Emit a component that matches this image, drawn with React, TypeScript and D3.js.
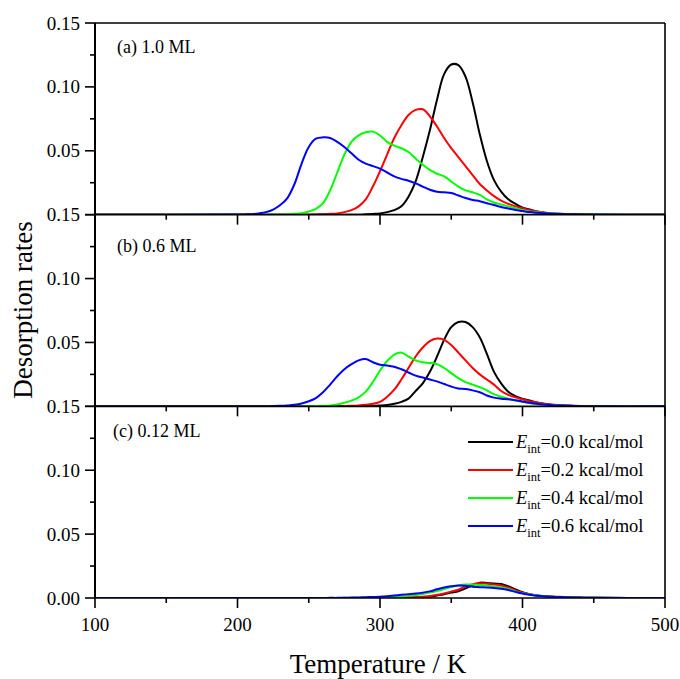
import React from 'react';
import * as d3 from 'd3';

// temperature grid (K)
const temps = [
  100,
  200, 205, 210, 215, 220, 225, 230, 235, 240, 245,
  250, 255, 260, 265, 270, 275, 280, 285, 290, 295,
  300, 305, 310, 315, 320, 325, 330, 335, 340, 345,
  350, 355, 360, 365, 370, 375, 380, 385, 390, 395,
  400, 405, 410, 415, 420, 425, 430, 435, 440, 445,
  450, 500,
];

// (a) 1.0 ML
const aBlack = [
  0,
  0, 0, 0, 0, 0, 0, 0, 0, 0, 0,
  0, 0, 0, 0, 0, 0, 0, 0, 0.0003, 0.0006,
  0.001, 0.002, 0.0035, 0.0065, 0.014, 0.026, 0.045, 0.066, 0.09, 0.11,
  0.1175, 0.117, 0.108, 0.088, 0.063, 0.042, 0.027, 0.018, 0.012, 0.0085,
  0.0055, 0.004, 0.0025, 0.0015, 0.001, 0.0007, 0.0005, 0.0003, 0.0002, 0.0001,
  0, 0,
];
const aRed = [
  0,
  0, 0, 0, 0, 0, 0, 0, 0, 0, 0,
  0, 0.0002, 0.0004, 0.0007, 0.001, 0.002, 0.0035, 0.0065, 0.012, 0.022,
  0.034, 0.047, 0.06, 0.07, 0.078, 0.082, 0.0825, 0.077, 0.069, 0.06,
  0.052, 0.045, 0.038, 0.031, 0.024, 0.019, 0.0145, 0.011, 0.0085, 0.0065,
  0.005, 0.0035, 0.0025, 0.0018, 0.0012, 0.0008, 0.0005, 0.0003, 0.0002, 0.0001,
  0, 0,
];
const aGreen = [
  0,
  0, 0, 0, 0, 0, 0.0001, 0.0002, 0.0004, 0.0007, 0.0012,
  0.0025, 0.0045, 0.009, 0.019, 0.033, 0.047, 0.057, 0.062, 0.0645, 0.065,
  0.062, 0.057, 0.054, 0.052, 0.049, 0.044, 0.039, 0.035, 0.032, 0.03,
  0.026, 0.022, 0.019, 0.0175, 0.0155, 0.012, 0.0095, 0.008, 0.0065, 0.005,
  0.0035, 0.0025, 0.0018, 0.0013, 0.001, 0.0008, 0.0006, 0.0004, 0.0003, 0.0002,
  0.0001, 0,
];
const aBlue = [
  0,
  0.0001, 0.0002, 0.0004, 0.001, 0.002, 0.004, 0.0075, 0.013, 0.024, 0.04,
  0.053, 0.0595, 0.0605, 0.06, 0.057, 0.053, 0.048, 0.043, 0.04, 0.038,
  0.036, 0.033, 0.03, 0.028, 0.0265, 0.0245, 0.022, 0.0195, 0.018, 0.0175,
  0.017, 0.015, 0.013, 0.0115, 0.0105, 0.009, 0.0075, 0.006, 0.0048, 0.0036,
  0.0028, 0.002, 0.0015, 0.0011, 0.0008, 0.0006, 0.0005, 0.0004, 0.0003, 0.0002,
  0.0001, 0,
];

// (b) 0.6 ML
const bBlack = [
  0,
  0, 0, 0, 0, 0, 0, 0, 0, 0, 0,
  0, 0, 0, 0, 0, 0, 0, 0, 0.0002, 0.0004,
  0.0006, 0.001, 0.002, 0.0035, 0.006, 0.012, 0.018, 0.027, 0.039, 0.052,
  0.062, 0.066, 0.066, 0.062, 0.054, 0.041, 0.027, 0.018, 0.0115, 0.008,
  0.006, 0.0045, 0.003, 0.002, 0.0013, 0.0009, 0.0006, 0.0004, 0.0002, 0.0001,
  0, 0,
];
const bRed = [
  0,
  0, 0, 0, 0, 0, 0, 0, 0, 0, 0,
  0, 0, 0, 0, 0.0001, 0.0002, 0.0004, 0.0007, 0.0012, 0.002,
  0.0035, 0.0075, 0.013, 0.021, 0.03, 0.039, 0.046, 0.051, 0.053, 0.052,
  0.048, 0.042, 0.036, 0.03, 0.025, 0.021, 0.017, 0.012, 0.009, 0.007,
  0.0055, 0.004, 0.003, 0.002, 0.0014, 0.001, 0.0007, 0.0005, 0.0003, 0.0002,
  0.0001, 0,
];
const bGreen = [
  0,
  0, 0, 0, 0, 0, 0, 0, 0, 0, 0,
  0.0001, 0.0002, 0.0004, 0.0007, 0.0015, 0.0028, 0.0045, 0.007, 0.0115, 0.019,
  0.028, 0.0355, 0.0405, 0.042, 0.039, 0.036, 0.0345, 0.034, 0.033, 0.03,
  0.026, 0.022, 0.019, 0.017, 0.015, 0.0125, 0.0095, 0.0075, 0.006, 0.0045,
  0.0035, 0.0025, 0.0018, 0.0013, 0.001, 0.0007, 0.0005, 0.0003, 0.0002, 0.0001,
  0, 0,
];
const bBlue = [
  0,
  0, 0, 0, 0, 0.0001, 0.0002, 0.0004, 0.0007, 0.0012, 0.0022,
  0.004, 0.0065, 0.011, 0.017, 0.0235, 0.029, 0.033, 0.036, 0.037, 0.0345,
  0.0325, 0.032, 0.031, 0.029, 0.0265, 0.024, 0.0225, 0.021, 0.0195, 0.0175,
  0.0155, 0.014, 0.0135, 0.0125, 0.011, 0.0085, 0.0068, 0.006, 0.0055, 0.0048,
  0.0038, 0.0028, 0.002, 0.0014, 0.001, 0.0007, 0.0005, 0.0003, 0.0002, 0.0001,
  0, 0,
];

// (c) 0.12 ML
const cBlack = [
  0,
  0, 0, 0, 0, 0, 0, 0, 0, 0, 0,
  0, 0, 0, 0, 0, 0, 0, 0, 0, 0,
  0.0001, 0.0001, 0.0002, 0.0002, 0.0003, 0.0004, 0.0006, 0.001, 0.002, 0.003,
  0.0042, 0.0053, 0.0075, 0.01, 0.012, 0.0118, 0.0113, 0.011, 0.0092, 0.0068,
  0.0045, 0.003, 0.002, 0.0015, 0.001, 0.0008, 0.0007, 0.0005, 0.0003, 0.0002,
  0.0001, 0,
];
const cRed = [
  0,
  0, 0, 0, 0, 0, 0, 0, 0, 0, 0,
  0, 0, 0, 0, 0, 0, 0, 0, 0, 0.0001,
  0.0001, 0.0002, 0.0002, 0.0003, 0.0004, 0.0006, 0.001, 0.0015, 0.0025, 0.0035,
  0.005, 0.0065, 0.009, 0.0108, 0.0115, 0.0112, 0.0105, 0.0098, 0.0082, 0.006,
  0.0042, 0.003, 0.002, 0.0015, 0.0011, 0.0009, 0.0007, 0.0005, 0.0003, 0.0002,
  0.0001, 0,
];
const cGreen = [
  0,
  0, 0, 0, 0, 0, 0, 0, 0, 0, 0,
  0, 0, 0, 0, 0, 0.0001, 0.0001, 0.0002, 0.0002, 0.0003,
  0.0004, 0.0006, 0.0009, 0.0012, 0.0017, 0.0024, 0.0032, 0.0042, 0.0055, 0.007,
  0.0085, 0.0098, 0.0105, 0.0105, 0.0102, 0.0098, 0.009, 0.0082, 0.007, 0.0052,
  0.0038, 0.0027, 0.0019, 0.0014, 0.001, 0.0008, 0.0006, 0.0004, 0.0003, 0.0002,
  0.0001, 0,
];
const cBlue = [
  0,
  0, 0, 0, 0, 0, 0, 0, 0, 0, 0,
  0, 0, 0, 0.0001, 0.0001, 0.0002, 0.0003, 0.0004, 0.0006, 0.0008,
  0.001, 0.0014, 0.0019, 0.0025, 0.003, 0.0035, 0.0042, 0.0052, 0.0068, 0.0082,
  0.0092, 0.0098, 0.0095, 0.0088, 0.0085, 0.0082, 0.0078, 0.0072, 0.0062, 0.0048,
  0.0035, 0.0025, 0.0018, 0.0013, 0.001, 0.0008, 0.0006, 0.0004, 0.0003, 0.0002,
  0.0001, 0,
];

const seriesNames = ['0.0', '0.2', '0.4', '0.6'];
const seriesColors = ['#000000', '#ff0000', '#00ff00', '#0000ff'];
const panelLabels = ['(a) 1.0 ML', '(b) 0.6 ML', '(c) 0.12 ML'];
const panelData = [
  [aBlack, aRed, aGreen, aBlue],
  [bBlack, bRed, bGreen, bBlue],
  [cBlack, cRed, cGreen, cBlue],
];
const yMajor = [0, 0.05, 0.1, 0.15];
const yMinor = [0.025, 0.075, 0.125];
const zeroLabels = ['0.15', '0.15', '0.00'];
const xMajor = [100, 200, 300, 400, 500];
const xMinor = [150, 250, 350, 450];

const W = 680;
const H = 679;
const left = 95;
const right = 665;
const top = 23;
const bottom = 598;
const font = "'Liberation Serif', 'Times New Roman', serif";

export default function App() {
  const x = d3.scaleLinear().domain([100, 500]).range([left, right]);
  const panelH = (bottom - top) / 3;
  const labelPos = [
    { x: 117, y: 53 },
    { x: 117, y: 252 },
    { x: 113, y: 437 },
  ];

  return (
    <svg
      width={W}
      height={H}
      style={{ position: 'absolute', left: 0, top: 0, background: '#fff' }}
      fontFamily={font}
    >
      <defs>
        {panelData.map((_, p) => (
          <clipPath key={p} id={`clip-${p}`}>
            <rect x={left} y={top + panelH * p - 2} width={right - left} height={panelH + 2} />
          </clipPath>
        ))}
      </defs>
      {panelData.map((series, p) => {
        const y0 = top + panelH * p;
        const y1 = y0 + panelH;
        const y = d3.scaleLinear().domain([0, 0.15]).range([y1, y0]);
        const line = d3
          .line<number>()
          .x((_, i) => x(temps[i]))
          .y((d) => y(d))
          .curve(d3.curveCatmullRom.alpha(0.5));
        return (
          <g key={p}>
            <g clipPath={`url(#clip-${p})`}>
              {series.map((vals, s) => (
                <path
                  key={s}
                  d={line(vals) || ''}
                  fill="none"
                  stroke={seriesColors[s]}
                  strokeWidth={2}
                  strokeLinejoin="round"
                />
              ))}
            </g>
            {/* x axis line with ticks pointing down */}
            <line x1={left} x2={right} y1={y1} y2={y1} stroke="#000" strokeWidth={1.6} />
            {xMajor.map((t) => (
              <line key={'xm' + t} x1={x(t)} x2={x(t)} y1={y1} y2={y1 + 10} stroke="#000" strokeWidth={1.6} />
            ))}
            {xMinor.map((t) => (
              <line key={'xn' + t} x1={x(t)} x2={x(t)} y1={y1} y2={y1 + 5} stroke="#000" strokeWidth={1.6} />
            ))}
            {/* y ticks */}
            {yMajor.map((v) => (
              <line key={'ym' + v} x1={left - 10} x2={left} y1={y(v)} y2={y(v)} stroke="#000" strokeWidth={1.6} />
            ))}
            {yMinor.map((v) => (
              <line key={'yn' + v} x1={left - 5} x2={left} y1={y(v)} y2={y(v)} stroke="#000" strokeWidth={1.6} />
            ))}
            {yMajor
              .filter((v) => p === 0 || v < 0.15)
              .map((v) => (
                <text key={'yl' + v} x={left - 15} y={y(v) + 6.5} textAnchor="end" fontSize={19}>
                  {v === 0 ? zeroLabels[p] : v.toFixed(2)}
                </text>
              ))}
            <text x={labelPos[p].x} y={labelPos[p].y} fontSize={18}>
              {panelLabels[p]}
            </text>
          </g>
        );
      })}

      {/* frame */}
      <line x1={left} x2={right} y1={top} y2={top} stroke="#000" strokeWidth={1.6} />
      <line x1={left} x2={left} y1={top} y2={bottom} stroke="#000" strokeWidth={2} />
      <line x1={right} x2={right} y1={top} y2={bottom} stroke="#000" strokeWidth={1.6} />

      {/* x tick labels */}
      {xMajor.map((t) => (
        <text key={'xl' + t} x={x(t)} y={631} textAnchor="middle" fontSize={19}>
          {t}
        </text>
      ))}

      {/* legend */}
      {seriesNames.map((n, i) => {
        const ly = 442 + i * 28;
        return (
          <g key={'lg' + i}>
            <line x1={468} x2={513} y1={ly} y2={ly} stroke={seriesColors[i]} strokeWidth={2} />
            <text x={516} y={ly + 5.5} fontSize={18.5}>
              <tspan fontStyle="italic">E</tspan>
              <tspan fontSize={12.5} dy={5}>int</tspan>
              <tspan dy={-5}>={n} kcal/mol</tspan>
            </text>
          </g>
        );
      })}

      {/* axis titles */}
      <text
        transform={`translate(32, 310) rotate(-90)`}
        textAnchor="middle"
        fontSize={27}
      >
        Desorption rates
      </text>
      <text x={378} y={673} textAnchor="middle" fontSize={27}>
        Temperature / K
      </text>
    </svg>
  );
}
